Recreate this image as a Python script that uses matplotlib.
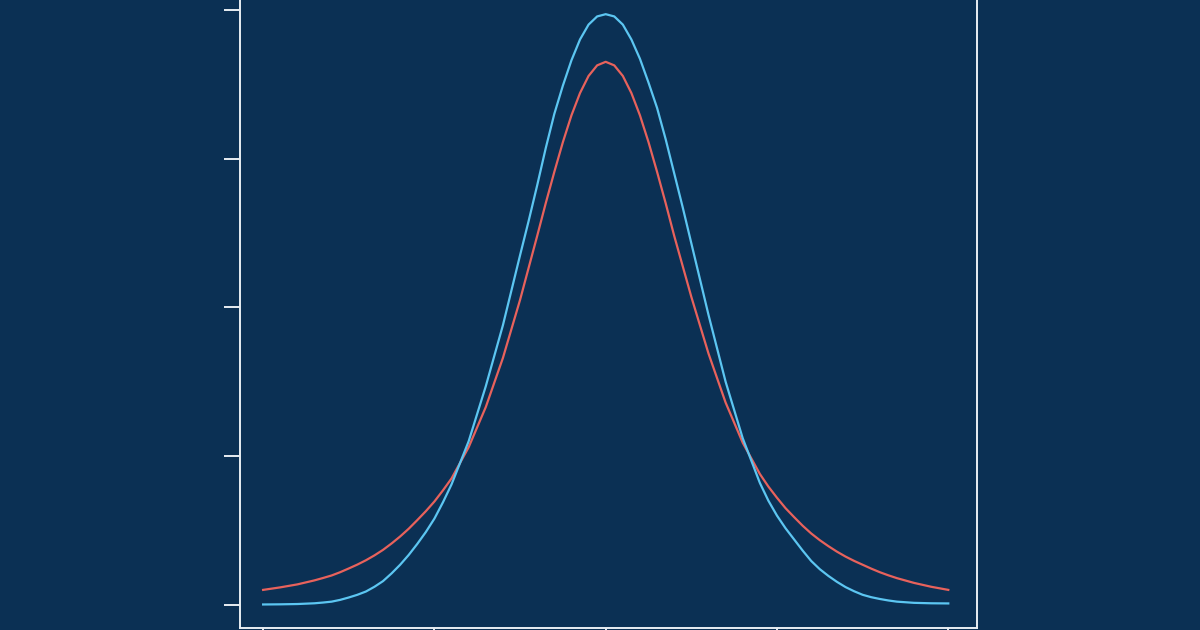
import matplotlib
matplotlib.use("Agg")
import matplotlib.pyplot as plt

# x positions (denser where the curves bend)
x = [-4.0, -3.8, -3.6,
     -3.4, -3.3, -3.2, -3.1, -3.0, -2.9, -2.8, -2.7, -2.6, -2.5, -2.4, -2.3, -2.2, -2.1, -2.0, -1.9, -1.8,
     -1.6, -1.4, -1.2,
     -1.0, -0.9, -0.8, -0.7, -0.6, -0.5, -0.4, -0.3, -0.2, -0.1, 0.0,
     0.1, 0.2, 0.3, 0.4, 0.5, 0.6, 0.7, 0.8, 0.9, 1.0,
     1.2, 1.4, 1.6,
     1.8, 1.9, 2.0, 2.1, 2.2, 2.3, 2.4, 2.5, 2.6, 2.7, 2.8, 2.9, 3.0, 3.1, 3.2, 3.3, 3.4,
     3.6, 3.8, 4.0]

# light blue curve (normal-like)
blue = [0.0003, 0.0004, 0.0006,
        0.0011, 0.0016, 0.0022, 0.0034, 0.0050, 0.0068, 0.0090, 0.0122, 0.0160, 0.0212, 0.0270, 0.0336, 0.0410, 0.0490, 0.0580, 0.0690, 0.0810,
        0.1100, 0.1470, 0.1880,
        0.2350, 0.2580, 0.2820, 0.3070, 0.3300, 0.3490, 0.3660, 0.3800, 0.3900, 0.3955, 0.3970,
        0.3955, 0.3900, 0.3800, 0.3670, 0.3510, 0.3340, 0.3130, 0.2900, 0.2670, 0.2430,
        0.1950, 0.1500, 0.1120,
        0.0820, 0.0700, 0.0600, 0.0515, 0.0440, 0.0365, 0.0295, 0.0240, 0.0195, 0.0155, 0.0120, 0.0092, 0.0068, 0.0052, 0.0040, 0.0030, 0.0022,
        0.0014, 0.0011, 0.0010]

# red curve (heavier tails)
red = [0.0101, 0.0118, 0.0138,
       0.0165, 0.0181, 0.0198, 0.0220, 0.0245, 0.0271, 0.0300, 0.0333, 0.0370, 0.0413, 0.0460, 0.0512, 0.0570, 0.0630, 0.0695, 0.0770, 0.0850,
       0.1060, 0.1330, 0.1660,
       0.2050, 0.2265, 0.2480, 0.2700, 0.2910, 0.3110, 0.3290, 0.3440, 0.3555, 0.3626, 0.3650,
       0.3626, 0.3555, 0.3440, 0.3290, 0.3110, 0.2910, 0.2700, 0.2480, 0.2275, 0.2070,
       0.1690, 0.1360, 0.1090,
       0.0880, 0.0795, 0.0720, 0.0650, 0.0590, 0.0532, 0.0480, 0.0435, 0.0395, 0.0358, 0.0325, 0.0296, 0.0270, 0.0244, 0.0220, 0.0199, 0.0180,
       0.0148, 0.0122, 0.0101]

xticks = [-4, -2, 0, 2, 4]
yticks = [0.0, 0.1, 0.2, 0.3, 0.4]

bg = "#0b3054"
fg = "#e9eef3"

fig = plt.figure(figsize=(12, 6.3), dpi=100)
fig.patch.set_facecolor(bg)
# axes runs past the top edge of the figure (top spine is cut off)
ax = fig.add_axes([0.2, 0.0032, 0.614, 1.0286])
ax.set_facecolor(bg)

ax.plot(x, red, color="#e8625c", lw=1.6, solid_joinstyle="round")
ax.plot(x, blue, color="#5cc6f2", lw=1.6, solid_joinstyle="round")

ax.set_xlim(-4.27, 4.333)
ax.set_ylim(-0.0155, 0.42)
ax.set_xticks(xticks)
ax.set_yticks(yticks)
ax.set_xticklabels([])
ax.set_yticklabels([])
ax.tick_params(axis="both", direction="out", length=11.5, width=1.4, color=fg)

for side in ["left", "right", "bottom", "top"]:
    ax.spines[side].set_color(fg)
    ax.spines[side].set_linewidth(1.4)

fig.savefig("out.png", dpi=100, facecolor=bg)
